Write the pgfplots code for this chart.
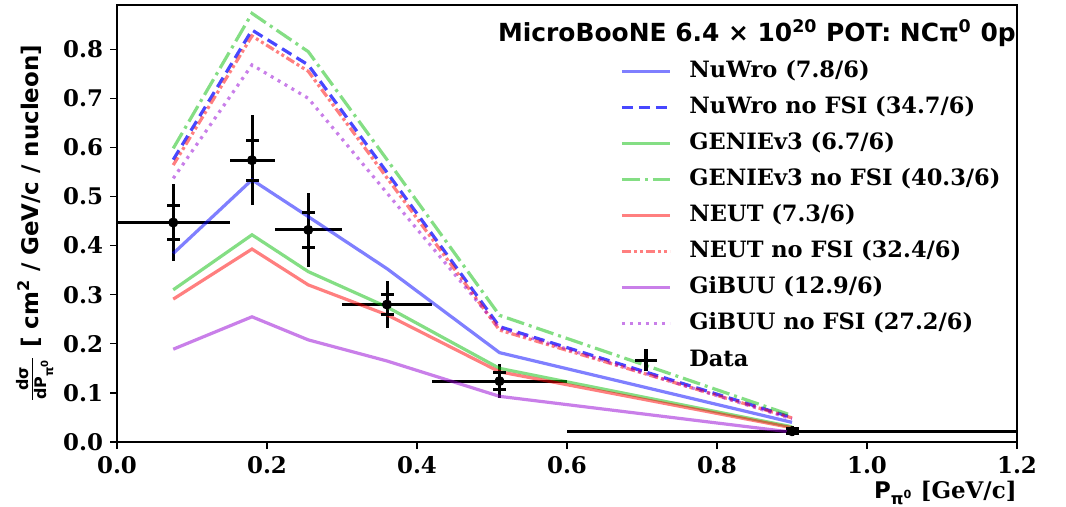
\documentclass[border=0pt]{standalone}
\usepackage{fontspec}
\setmainfont{DejaVu Serif}
\newfontfamily\sansfont{DejaVu Sans}
\newfontfamily\serifbold{DejaVu Serif Bold}
\usepackage{pgfplots}
\usepackage{pgfplotstable}
\pgfplotsset{compat=1.18}

\definecolor{cBlue}{RGB}{0,0,255}
\definecolor{cGreen}{RGB}{10,190,10}
\definecolor{cRed}{RGB}{255,0,0}
\definecolor{cViolet}{RGB}{148,0,211}

\pgfplotstableread{
x     xe     y      yt     ys
0.075 0.075  0.447  0.079  0.035
0.18  0.03   0.574  0.092  0.041
0.255 0.045  0.432  0.075  0.035
0.36  0.06   0.280  0.048  0.021
0.51  0.09   0.124  0.034  0.018
0.90  0.30   0.022  0.010  0.005
}\data

\pgfplotstableread{
x     nuwro  nuwronf genie  genienf neut   neutnf gibuu  gibuunf
0.075 0.384  0.575   0.310  0.598   0.291  0.564  0.189  0.537
0.18  0.534  0.839   0.422  0.873   0.393  0.827  0.255  0.768
0.255 0.459  0.768   0.347  0.795   0.320  0.755  0.208  0.700
0.36  0.353  0.549   0.275  0.575   0.259  0.538  0.165  0.507
0.51  0.182  0.235   0.150  0.258   0.143  0.228  0.093  0.232
0.90  0.040  0.050   0.031  0.054   0.029  0.049  0.020  0.047
}\models

\begin{document}
\begin{tikzpicture}
\begin{axis}[
  at={(0,0)}, anchor=south west,
  scale only axis, width=450bp, height=218.5bp,
  xmin=0, xmax=1.2, ymin=0, ymax=0.89,
  xtick={0,0.2,0.4,0.6,0.8,1.0,1.2},
  ytick={0,0.1,0.2,0.3,0.4,0.5,0.6,0.7,0.8},
  scaled ticks=false,
  xticklabel={\pgfmathprintnumber[fixed, fixed zerofill, precision=1, assume math mode=true]{\tick}},
  yticklabel={\pgfmathprintnumber[fixed, fixed zerofill, precision=1, assume math mode=true]{\tick}},
  tick label style={font=\serifbold\fontsize{11.5}{13}\selectfont},
  tick align=outside, xtick pos=bottom, ytick pos=left,
  major tick length=3.5bp,
  axis line style={line width=0.6bp},
  every tick/.style={black, line width=0.6bp},
  xlabel={{\sansfont\bfseries P\textsubscript{π\textsuperscript{0}}} {\serifbold [GeV/c]}},
  xlabel style={at={(axis description cs:1,0)}, anchor=base east, inner sep=0pt, yshift=-28.3bp, font=\fontsize{11.5}{13}\selectfont},
  ylabel={\sansfont\bfseries $\frac{\hbox{\sansfont\bfseries\fontsize{8}{8}\selectfont dσ}}{\hbox{\sansfont\bfseries\fontsize{8}{8}\selectfont dP\textsubscript{π\textsuperscript{0}}}}$ [ cm\textsuperscript{2} / GeV/c / nucleon]},
  ylabel style={at={(axis description cs:-0.0911,0.5)}, anchor=center, font=\fontsize{11.5}{13}\selectfont},
  legend image code/.code={\draw[#1] (0bp,0bp) -- (24bp,0bp);},
  legend cell align=left,
  legend style={at={(axis description cs:0.552,0.885)}, anchor=north west,
    draw=none, fill=none, font=\serifbold\fontsize{11.3}{13}\selectfont,
    row sep=6bp, column sep=9bp,
    nodes={inner sep=0pt, text height=9bp, text depth=3bp}},
]
% data: total errors (no caps) with bin widths
\addplot[black, only marks, mark=*, mark size=2.3bp, forget plot,
  error bars/.cd, x dir=both, x explicit, y dir=both, y explicit,
  error mark=none, error bar style={line width=1.5bp, black}]
  table[x=x, y=y, x error=xe, y error=yt] {\data};
% data: stat error caps
\addplot[black, only marks, mark=-, mark size=3.25bp, mark options={line width=1.5bp}, forget plot]
  table[x=x, y expr=\thisrow{y}+\thisrow{ys}] {\data};
\addplot[black, only marks, mark=-, mark size=3.25bp, mark options={line width=1.5bp}, forget plot]
  table[x=x, y expr=\thisrow{y}-\thisrow{ys}] {\data};

\addplot[cBlue, opacity=0.5, line width=1.6bp] table[x=x, y=nuwro] {\models};
\addlegendentry{NuWro (7.8/6)}
\addplot[cBlue, opacity=0.72, line width=1.6bp, dash pattern=on 5.5bp off 3bp] table[x=x, y=nuwronf] {\models};
\addlegendentry{NuWro no FSI (34.7/6)}
\addplot[cGreen, opacity=0.5, line width=1.6bp] table[x=x, y=genie] {\models};
\addlegendentry{GENIEv3 (6.7/6)}
\addplot[cGreen, opacity=0.5, line width=1.6bp, dash pattern=on 9bp off 2.5bp on 1.5bp off 2.5bp] table[x=x, y=genienf] {\models};
\addlegendentry{GENIEv3 no FSI (40.3/6)}
\addplot[cRed, opacity=0.5, line width=1.6bp] table[x=x, y=neut] {\models};
\addlegendentry{NEUT (7.3/6)}
\addplot[cRed, opacity=0.5, line width=1.6bp, dash pattern=on 4.5bp off 1.5bp on 1.5bp off 1.5bp on 1.5bp off 1.5bp] table[x=x, y=neutnf] {\models};
\addlegendentry{NEUT no FSI (32.4/6)}
\addplot[cViolet, opacity=0.5, line width=1.6bp] table[x=x, y=gibuu] {\models};
\addlegendentry{GiBUU (12.9/6)}
\addplot[cViolet, opacity=0.5, line width=1.6bp, dash pattern=on 1.5bp off 2.5bp] table[x=x, y=gibuunf] {\models};
\addlegendentry{GiBUU no FSI (27.2/6)}
\addlegendimage{legend image code/.code={\draw[black, line width=1.8bp] (12bp,-5.5bp) -- (12bp,5.5bp) (6.5bp,0bp) -- (17.5bp,0bp);}}
\addlegendentry{Data}

\node[font=\sansfont\bfseries\fontsize{12.5}{14}\selectfont] at (axis description cs:0.711,0.935)
  {MicroBooNE 6.4 × 10\textsuperscript{20} POT: NCπ\textsuperscript{0} 0p};
\end{axis}
\pgfresetboundingbox
\path[use as bounding box] (-58.5bp,-32.5bp) rectangle (474.5bp,221bp);
\end{tikzpicture}
\end{document}
